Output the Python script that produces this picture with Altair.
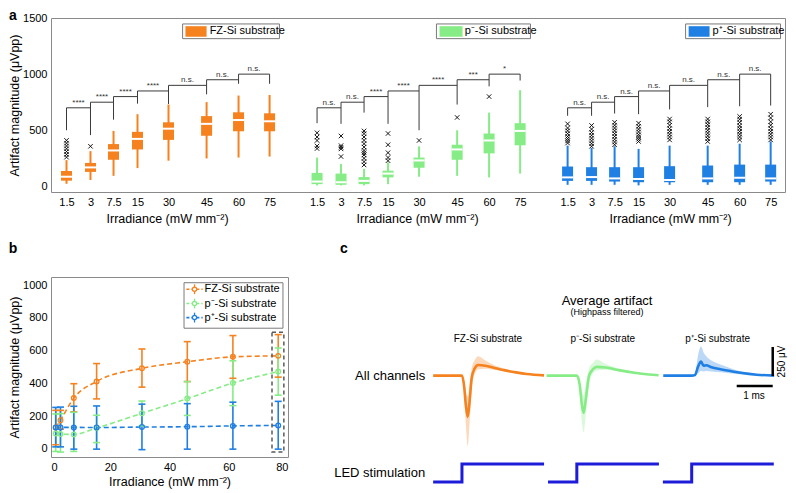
import json
import altair as alt
import pandas as pd

FONT = "Liberation Sans"

# ---------------- values ----------------
substrates = ["FZ-Si substrate", "p⁻-Si substrate", "p⁺-Si substrate"]
colors = ["#f5821f", "#86ec86", "#1f7fe3"]
led_color = "#1c1cd9"

irr_labels = ["1.5", "3", "7.5", "15", "30", "45", "60", "75"]
slot = [1.0, 2.02, 3.0, 4.02, 5.34, 6.96, 8.32, 9.64]   # box slots within a group (panel a)
group_gap = 10.66

# panel a : box statistics (uVpp)
fz_q1 = [51, 129, 237, 329, 414, 451, 491, 491]
fz_med = [86, 169, 320, 423, 514, 557, 591, 580]
fz_q3 = [137, 209, 377, 486, 571, 626, 660, 651]
fz_wlo = [23, 57, 94, 163, 229, 249, 257, 266]
fz_whi = [234, 314, 494, 643, 729, 751, 809, 814]

gr_q1 = [20, 14, 20, 80, 166, 237, 294, 366]
gr_med = [43, 37, 49, 114, 231, 329, 409, 494]
gr_q3 = [120, 114, 83, 140, 257, 371, 471, 563]
gr_wlo = [9, 9, 9, 20, 86, 94, 80, 114]
gr_whi = [257, 200, 157, 214, 357, 500, 657, 857]

bl_q1 = [49, 49, 43, 37, 37, 37, 37, 43]
bl_med = [80, 83, 71, 66, 57, 71, 77, 71]
bl_q3 = [177, 171, 171, 171, 180, 186, 194, 194]
bl_wlo = [14, 14, 14, 9, 14, 14, 14, 14]
bl_whi = [363, 343, 357, 334, 363, 363, 380, 400]

fz_out = [[260, 285, 310, 335, 360, 385, 410], [357], [], [], [], [], [], []]
gr_out = [[337, 360, 409, 440, 477], [266, 334, 349, 363, 449],
          [191, 220, 250, 280, 300, 320, 350, 380, 410, 440, 470, 494],
          [229, 257, 300, 371, 471], [409], [614], [800], []]
bl_out = [[386, 405, 425, 445, 470, 495, 520, 557],
          [357, 380, 405, 430, 455, 480, 510, 543],
          [371, 395, 420, 445, 470, 495, 520, 545, 571],
          [400, 420, 440, 460, 485, 510, 535, 563],
          [414, 440, 465, 490, 515, 545, 575, 600],
          [400, 425, 450, 475, 500, 525, 550, 575, 600],
          [414, 440, 465, 490, 515, 540, 570, 598, 623],
          [414, 440, 465, 490, 515, 545, 575, 610, 643]]

bracket_h = [700, 750, 800, 850, 900, 950, 1000]
fz_leg = [500, 457, 594, 737, 734, 820, 914, 914]
gr_leg = [563, 557, 657, 557, 500, 729, 891, 943]
bl_leg = [629, 629, 649, 643, 686, 706, 714, 720]
fz_sig = ["****", "****", "****", "****", "n.s.", "n.s.", "n.s."]
gr_sig = ["n.s.", "n.s.", "****", "****", "****", "***", "*"]
bl_sig = ["n.s.", "n.s.", "n.s.", "n.s.", "n.s.", "n.s.", "n.s."]

# panel b : mean +- sd
b_x = [1.6, 3.2, 7.7, 15.4, 30.7, 46.0, 61.4, 76.7]
fz_mean_b = [130, 175, 310, 412, 492, 532, 562, 568]
fz_lo_b = [25, 120, 226, 305, 377, 411, 431, 438]
fz_hi_b = [235, 235, 398, 521, 610, 655, 692, 698]
gr_mean_b = [93, 90, 88, 127, 217, 307, 402, 472]
gr_lo_b = [-16, -20, -16, 38, 140, 204, 264, 328]
gr_hi_b = [213, 215, 223, 205, 292, 411, 538, 616]
bl_mean_b = [131, 131, 131, 130, 133, 135, 140, 143]
bl_lo_b = [12, 12, -2, -2, -5, -2, -2, -2]
bl_hi_b = [253, 255, 260, 262, 273, 276, 285, 290]

# panel c : average artifact traces (t in ms from LED onset, uV)
fz_t = [-0.8, 0.0, 0.06, 0.11, 0.16, 0.21, 0.27, 0.35, 0.45, 0.65, 0.9, 1.2, 1.5, 1.8, 2.28]
fz_tr = [0, 0, -90, -260, -356, -230, -20, 60, 92, 85, 66, 45, 28, 14, 2]
fz_trlo = [0, 0, -160, -430, -609, -420, -120, 10, 55, 60, 50, 35, 20, 8, 0]
fz_trhi = [0, 0, -40, -140, -180, -80, 60, 130, 166, 130, 90, 60, 35, 18, 4]
gr_t = [-0.84, 0.0, 0.08, 0.14, 0.19, 0.25, 0.34, 0.45, 0.55, 0.8, 1.2, 1.6, 2.0, 2.27]
gr_tr = [0, 0, -80, -250, -322, -200, 0, 55, 75, 70, 45, 25, 10, 3]
gr_trlo = [0, 0, -140, -400, -490, -330, -80, 20, 45, 50, 35, 18, 6, 0]
gr_trhi = [0, 0, -30, -130, -170, -70, 60, 110, 138, 100, 60, 32, 14, 5]
bl_t = [-0.79, 0.0, 0.09, 0.18, 0.26, 0.33, 0.4, 0.55, 0.8, 1.1, 1.4, 1.8, 2.29]
bl_tr = [0, 0, 5, 80, 121, 85, 90, 72, 55, 38, 22, 8, 0]
bl_trlo = [0, 0, 0, 20, 40, 35, 40, 35, 28, 18, 10, 3, 0]
bl_trhi = [0, 0, 20, 180, 251, 200, 170, 130, 95, 62, 35, 14, 2]
trace_onset = [4.47, 7.66, 10.85]
led_t = [-0.8, 0.0, 0.0, 2.28]
led_v = [0, 0, 1, 1]

# ---------------- tables ----------------
stats = [(fz_q1, fz_med, fz_q3, fz_wlo, fz_whi, fz_out, fz_leg, fz_sig),
         (gr_q1, gr_med, gr_q3, gr_wlo, gr_whi, gr_out, gr_leg, gr_sig),
         (bl_q1, bl_med, bl_q3, bl_wlo, bl_whi, bl_out, bl_leg, bl_sig)]

box_rows, out_rows, brh_rows, brv_rows = [], [], [], []
tick_pos, tick_lab = [], []
for g, sub in enumerate(substrates):
    q1, md, q3, wlo, whi, outs, leg, sig = stats[g]
    pos = [round(s + g * group_gap, 2) for s in slot]
    for k in range(8):
        box_rows.append(dict(x=pos[k], sub=sub, q1=q1[k], med=md[k], q3=q3[k], wlo=wlo[k], whi=whi[k]))
        for v in outs[k]:
            out_rows.append(dict(x=pos[k], y=v))
        top = bracket_h[min(k, 6)]
        brv_rows.append(dict(x=pos[k], y=leg[k], y2=top))
        tick_pos.append(pos[k])
        tick_lab.append(irr_labels[k])
    for k in range(7):
        brh_rows.append(dict(x=pos[k], x2=pos[k + 1], xm=(pos[k] + pos[k + 1]) / 2,
                             y=bracket_h[k], label=sig[k]))
box_df = pd.DataFrame(box_rows)
out_df = pd.DataFrame(out_rows)
brh_df = pd.DataFrame(brh_rows)
brv_df = pd.DataFrame(brv_rows)

label_expr = "%s[indexof(%s, datum.value)]" % (json.dumps(tick_lab), json.dumps(tick_pos))

col = alt.Color("sub:N", scale=alt.Scale(domain=substrates, range=colors), legend=None)

# ---------------- panel a ----------------
WA, HA = 734, 174
sc_xa = alt.Scale(domain=[0.34, 31.57], nice=False, zero=False)
sc_ya = alt.Scale(domain=[-50, 1500], nice=False, zero=False)
ax_xa = alt.Axis(values=tick_pos, labelExpr=label_expr, title=None, grid=False, ticks=False,
                 domain=False, labelFontSize=11, labelPadding=4)
ax_ya = alt.Axis(values=[0, 500, 1000, 1500], format="d", title="Artifact magnitude (μVpp)", grid=False,
                 ticks=False, domain=False, labelFontSize=11, labelPadding=4, titlePadding=1,
                 titleFontSize=12.5)


def xa(f):
    return alt.X(f + ":Q", scale=sc_xa, axis=ax_xa)


def ya(f):
    return alt.Y(f + ":Q", scale=sc_ya, axis=ax_ya)


base_box = alt.Chart(box_df)
whisk = base_box.mark_rule(strokeWidth=2).encode(x=xa("x"), y=ya("wlo"), y2="whi", color=col)
boxes = base_box.mark_rule(strokeWidth=11, strokeCap="butt").encode(x=xa("x"), y=ya("q1"), y2="q3", color=col)
meds = base_box.mark_rule(color="white", strokeWidth=2, xOffset=-5.5, x2Offset=5.5).encode(
    x=xa("x"), x2="x", y=ya("med"))
outl = alt.Chart(out_df).mark_point(shape="M-1,-1L1,1M-1,1L1,-1", size=20, filled=False,
                                    color="black", strokeWidth=0.9, opacity=1).encode(x=xa("x"), y=ya("y"))
brh = alt.Chart(brh_df).mark_rule(color="#3a3a3a", strokeWidth=1).encode(x=xa("x"), x2="x2", y=ya("y"))
brv = alt.Chart(brv_df).mark_rule(color="#3a3a3a", strokeWidth=1).encode(x=xa("x"), y=ya("y"), y2="y2")
brt = alt.Chart(brh_df).mark_text(fontSize=8, baseline="bottom", dy=-1, color="#333").encode(
    x=xa("xm"), y=ya("y"), text="label:N")

lega_df = pd.DataFrame(dict(sub=substrates,
                            bx=[5.94, 16.74, 27.34], bx2=[10.06, 20.74, 31.38],
                            px=[6.06, 16.87, 27.47], px2=[6.96, 17.85, 28.36],
                            tx=[7.09, 17.94, 28.49],
                            by=[1316] * 3, by2=[1447] * 3, py=[1333] * 3, py2=[1427] * 3, ty=[1380] * 3))
lega_box = alt.Chart(lega_df).mark_rect(fill="white", stroke="#7a7a7a", strokeWidth=1).encode(
    x=xa("bx"), x2="bx2", y=ya("by"), y2="by2")
lega_patch = alt.Chart(lega_df).mark_rect().encode(x=xa("px"), x2="px2", y=ya("py"), y2="py2", color=col)
lega_text = alt.Chart(lega_df).mark_text(align="left", fontSize=11, color="black").encode(
    x=xa("tx"), y=ya("ty"), text="sub:N")

xtit_df = pd.DataFrame(dict(x=[5.3, 15.94, 26.7], t=["Irradiance (mW mm⁻²)"] * 3))
xtit = alt.Chart(xtit_df).mark_text(fontSize=12.5, color="black").encode(
    x=xa("x"), y=alt.value(HA + 27), text="t:N")
lab_a = alt.Chart(pd.DataFrame(dict(t=["a"]))).mark_text(fontSize=14, fontWeight="bold", color="black").encode(
    x=alt.value(-38), y=alt.value(-2), text="t:N")

panel_a = alt.layer(whisk, boxes, meds, outl, brh, brv, brt, lega_box, lega_patch, lega_text,
                    xtit, lab_a).properties(width=WA, height=HA)

# ---------------- panel b ----------------
WB, HB = 237, 180
sc_xb = alt.Scale(domain=[0, 80], nice=False, zero=False)
sc_yb = alt.Scale(domain=[-50, 1050], nice=False, zero=False)
ax_xb = alt.Axis(values=[0, 20, 40, 60, 80], title="Irradiance (mW mm⁻²)", grid=False, ticks=False,
                 domain=False, labelFontSize=11, labelPadding=4, titleFontSize=12.5, titlePadding=3)
ax_yb = alt.Axis(values=[0, 200, 400, 600, 800, 1000], format="d", title="Artifact magnitude (μVpp)",
                 grid=False, ticks=False, domain=False, labelFontSize=11, labelPadding=4, titlePadding=1,
                 titleFontSize=12.5)


def xb(f):
    return alt.X(f + ":Q", scale=sc_xb, axis=ax_xb)


def yb(f):
    return alt.Y(f + ":Q", scale=sc_yb, axis=ax_yb)


bser = [(fz_mean_b, fz_lo_b, fz_hi_b), (gr_mean_b, gr_lo_b, gr_hi_b), (bl_mean_b, bl_lo_b, bl_hi_b)]
b_rows, cap_rows = [], []
for g, sub in enumerate(substrates):
    m, lo, hi = bser[g]
    for k in range(len(b_x)):
        b_rows.append(dict(sub=sub, order=g, x=b_x[k], m=m[k], lo=lo[k], hi=hi[k]))
        cap_rows.append(dict(sub=sub, order=g, x=b_x[k], y=lo[k]))
        cap_rows.append(dict(sub=sub, order=g, x=b_x[k], y=hi[k]))
b_df = pd.DataFrame(b_rows)
cap_df = pd.DataFrame(cap_rows)

blines = alt.Chart(b_df).mark_line(strokeDash=[5, 3], strokeWidth=1.6, interpolate="monotone").encode(
    x=xb("x"), y=yb("m"), color=col, detail="sub:N")
berr = alt.Chart(b_df).mark_rule(strokeWidth=1.6).encode(x=xb("x"), y=yb("lo"), y2="hi", color=col)
bcap = alt.Chart(cap_df).mark_rule(strokeWidth=1.6, xOffset=-3.5, x2Offset=3.5).encode(
    x=xb("x"), x2="x", y=yb("y"), color=col)
bpts = alt.Chart(b_df).mark_point(shape="circle", filled=False, size=22, strokeWidth=1.3, opacity=1).encode(
    x=xb("x"), y=yb("m"), color=col)
hl_df = pd.DataFrame(dict(x=[74.6], x2=[78.6], y=[-20], y2=[712]))
bhl = alt.Chart(hl_df).mark_rect(fillOpacity=0, stroke="#5a5a5a", strokeWidth=1.5, strokeDash=[4, 3]).encode(
    x=xb("x"), x2="x2", y=yb("y"), y2="y2")

legb_box_df = pd.DataFrame(dict(x=[44.9], x2=[78.3], y=[737], y2=[1015]))
legb_box = alt.Chart(legb_box_df).mark_rect(fill="white", stroke="#7a7a7a", strokeWidth=1).encode(
    x=xb("x"), x2="x2", y=yb("y"), y2="y2")
legb_df = pd.DataFrame(dict(sub=substrates, x=[45.7] * 3, x2=[51.2] * 3, xc=[48.45] * 3, xt=[51.8] * 3,
                            y=[975, 888, 802], ylo=[945, 858, 772], yhi=[1005, 918, 832]))
legb_line = alt.Chart(legb_df).mark_rule(strokeDash=[3, 2], strokeWidth=1.6).encode(
    x=xb("x"), x2="x2", y=yb("y"), color=col)
legb_err = alt.Chart(legb_df).mark_rule(strokeWidth=1.3).encode(x=xb("xc"), y=yb("ylo"), y2="yhi", color=col)
legb_pt = alt.Chart(legb_df).mark_point(shape="circle", filled=True, fill="white", size=18, strokeWidth=1.3,
                                        opacity=1).encode(x=xb("xc"), y=yb("y"), stroke=col)
legb_txt = alt.Chart(legb_df).mark_text(align="left", fontSize=11, color="black").encode(
    x=xb("xt"), y=yb("y"), text="sub:N")
lab_b = alt.Chart(pd.DataFrame(dict(t=["b"]))).mark_text(fontSize=14, fontWeight="bold", color="black").encode(
    x=alt.value(-38), y=alt.value(-28), text="t:N")

panel_b = alt.layer(blines, berr, bcap, bpts, bhl, legb_box, legb_line, legb_err, legb_pt, legb_txt,
                    lab_b).properties(width=WB, height=HB)

# ---------------- panel c ----------------
WC, HC = 480, 210
sc_xc = alt.Scale(domain=[0, 13.33], nice=False, zero=False)
sc_yc = alt.Scale(domain=[-960, 850], nice=False, zero=False)
sc_yl = alt.Scale(domain=[-0.278, 11.389], nice=False, zero=False)


def xc(f):
    return alt.X(f + ":Q", scale=sc_xc, axis=None)


def yc(f):
    return alt.Y(f + ":Q", scale=sc_yc, axis=None)


def yl(f):
    return alt.Y(f + ":Q", scale=sc_yl, axis=None)


cser = [(fz_t, fz_tr, fz_trlo, fz_trhi), (gr_t, gr_tr, gr_trlo, gr_trhi), (bl_t, bl_tr, bl_trlo, bl_trhi)]
c_rows, led_rows = [], []
for g, sub in enumerate(substrates):
    t, m, lo, hi = cser[g]
    for k in range(len(t)):
        c_rows.append(dict(sub=sub, x=trace_onset[g] + t[k], m=m[k], lo=lo[k], hi=hi[k]))
    for k in range(len(led_t)):
        led_rows.append(dict(sub=sub, k=k, x=trace_onset[g] + led_t[k], v=led_v[k]))
c_df = pd.DataFrame(c_rows)
led_df = pd.DataFrame(led_rows)

cband = alt.Chart(c_df).mark_area(opacity=0.3, interpolate="monotone").encode(
    x=xc("x"), y=yc("lo"), y2="hi", color=col, detail="sub:N")
cline = alt.Chart(c_df).mark_line(strokeWidth=2.6, interpolate="monotone").encode(
    x=xc("x"), y=yc("m"), color=col, detail="sub:N")

ct_df = pd.DataFrame(dict(x=[o + 0.72 for o in trace_onset], y=[316] * 3, t=substrates))
ctit = alt.Chart(ct_df).mark_text(fontSize=10, color="black").encode(x=xc("x"), y=yc("y"), text="t:N")
h1 = alt.Chart(pd.DataFrame(dict(x=[8.5], y=[643], t=["Average artifact"]))).mark_text(
    fontSize=13, color="black").encode(x=xc("x"), y=yc("y"), text="t:N")
h2 = alt.Chart(pd.DataFrame(dict(x=[8.5], y=[545], t=["(Highpass filtered)"]))).mark_text(
    fontSize=9, color="black").encode(x=xc("x"), y=yc("y"), text="t:N")
allch = alt.Chart(pd.DataFrame(dict(x=[3.45], y=[0], t=["All channels"]))).mark_text(
    fontSize=13, align="right", color="black").encode(x=xc("x"), y=yc("y"), text="t:N")

sbv_df = pd.DataFrame(dict(x=[13.1], y=[-3], y2=[247]))
sbh_df = pd.DataFrame(dict(x=[12.1], x2=[13.1], y=[-90]))
sbv = alt.Chart(sbv_df).mark_rule(color="black", strokeWidth=2.5).encode(x=xc("x"), y=yc("y"), y2="y2")
sbh = alt.Chart(sbh_df).mark_rule(color="black", strokeWidth=2.5).encode(x=xc("x"), x2="x2", y=yc("y"))
sbt1 = alt.Chart(pd.DataFrame(dict(x=[12.58], y=[-172], t=["1 ms"]))).mark_text(
    fontSize=10, color="black").encode(x=xc("x"), y=yc("y"), text="t:N")
sbt2 = alt.Chart(pd.DataFrame(dict(x=[13.36], y=[122], t=["250 μV"]))).mark_text(
    fontSize=10, angle=270, color="black").encode(x=xc("x"), y=yc("y"), text="t:N")
lab_c = alt.Chart(pd.DataFrame(dict(t=["c"]))).mark_text(fontSize=14, fontWeight="bold", color="black").encode(
    x=alt.value(43), y=alt.value(-28), text="t:N")

trace_layer = alt.layer(cband, cline, ctit, h1, h2, allch, sbv, sbh, sbt1, sbt2, lab_c)

led_line = alt.Chart(led_df).mark_line(color=led_color, strokeWidth=3).encode(
    x=xc("x"), y=yl("v"), detail="sub:N", order="k:Q")
led_txt = alt.Chart(pd.DataFrame(dict(x=[3.45], y=[0.5], t=["LED stimulation"]))).mark_text(
    fontSize=13, align="right", color="black").encode(x=xc("x"), y=yl("y"), text="t:N")
led_layer = alt.layer(led_line, led_txt)

panel_c = alt.layer(trace_layer, led_layer).resolve_scale(y="independent").properties(
    width=WC, height=HC, view=alt.ViewBackground(stroke="transparent"))

bottom = alt.hconcat(panel_b, panel_c, spacing=13, bounds="flush")
chart = alt.vconcat(panel_a, bottom, spacing=85, bounds="flush", padding=0).configure_view(
    stroke="#8a8a8a", strokeWidth=1).configure_axis(
    labelFont=FONT, titleFont=FONT, labelColor="black", titleColor="black", titleFontWeight="normal").configure_text(
    font=FONT)

chart.save("out.html", embed_options={"renderer": "svg", "actions": False})
